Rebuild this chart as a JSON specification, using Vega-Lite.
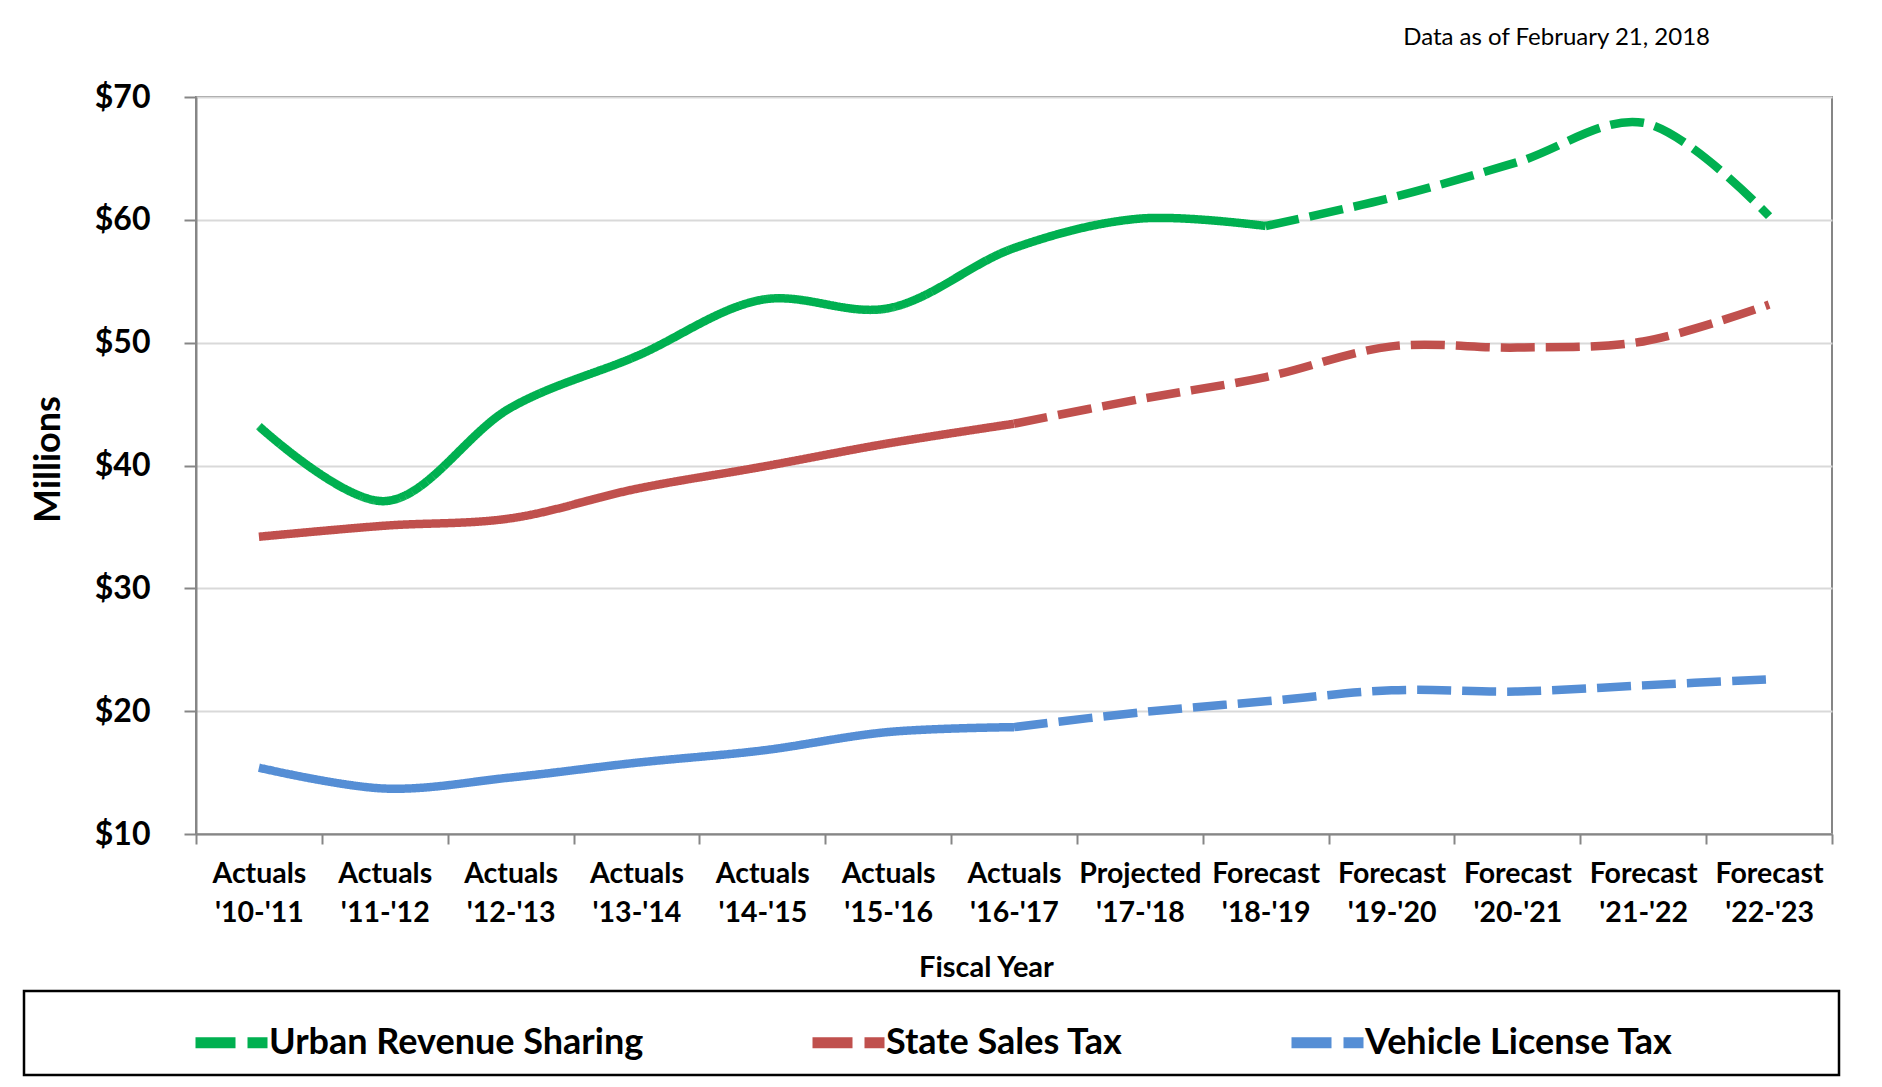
{
  "$schema": "https://vega.github.io/schema/vega-lite/v6.json",
  "width": 1636,
  "height": 737,
  "autosize": {"type": "none"},
  "padding": {"left": 196, "top": 97, "right": 50, "bottom": 253},
  "background": "white",
  "config": {"font": "Lato", "view": {"stroke": "#868686", "strokeWidth": 2}},
  "title": {"text": "Data as of February 21, 2018", "anchor": "end", "frame": "group", "font": "Lato", "fontSize": 24, "fontWeight": "normal", "color": "#000000", "offset": 31, "dx": -122},
  "data": {"values": [
    {"year": "Actuals '10-'11", "series": "Urban Revenue Sharing", "phase": "Actual", "value": 43.2},
    {"year": "Actuals '11-'12", "series": "Urban Revenue Sharing", "phase": "Actual", "value": 37.1},
    {"year": "Actuals '12-'13", "series": "Urban Revenue Sharing", "phase": "Actual", "value": 44.7},
    {"year": "Actuals '13-'14", "series": "Urban Revenue Sharing", "phase": "Actual", "value": 48.9},
    {"year": "Actuals '14-'15", "series": "Urban Revenue Sharing", "phase": "Actual", "value": 53.5},
    {"year": "Actuals '15-'16", "series": "Urban Revenue Sharing", "phase": "Actual", "value": 52.8},
    {"year": "Actuals '16-'17", "series": "Urban Revenue Sharing", "phase": "Actual", "value": 57.7},
    {"year": "Projected '17-'18", "series": "Urban Revenue Sharing", "phase": "Actual", "value": 60.1},
    {"year": "Forecast '18-'19", "series": "Urban Revenue Sharing", "phase": "Actual", "value": 59.5},
    {"year": "Forecast '18-'19", "series": "Urban Revenue Sharing", "phase": "Forecast", "value": 59.5},
    {"year": "Forecast '19-'20", "series": "Urban Revenue Sharing", "phase": "Forecast", "value": 61.8},
    {"year": "Forecast '20-'21", "series": "Urban Revenue Sharing", "phase": "Forecast", "value": 64.7},
    {"year": "Forecast '21-'22", "series": "Urban Revenue Sharing", "phase": "Forecast", "value": 67.9},
    {"year": "Forecast '22-'23", "series": "Urban Revenue Sharing", "phase": "Forecast", "value": 60.3},
    {"year": "Actuals '10-'11", "series": "State Sales Tax", "phase": "Actual", "value": 34.2},
    {"year": "Actuals '11-'12", "series": "State Sales Tax", "phase": "Actual", "value": 35.1},
    {"year": "Actuals '12-'13", "series": "State Sales Tax", "phase": "Actual", "value": 35.7},
    {"year": "Actuals '13-'14", "series": "State Sales Tax", "phase": "Actual", "value": 38.1},
    {"year": "Actuals '14-'15", "series": "State Sales Tax", "phase": "Actual", "value": 39.9},
    {"year": "Actuals '15-'16", "series": "State Sales Tax", "phase": "Actual", "value": 41.8},
    {"year": "Actuals '16-'17", "series": "State Sales Tax", "phase": "Actual", "value": 43.4},
    {"year": "Actuals '16-'17", "series": "State Sales Tax", "phase": "Forecast", "value": 43.4},
    {"year": "Projected '17-'18", "series": "State Sales Tax", "phase": "Forecast", "value": 45.4},
    {"year": "Forecast '18-'19", "series": "State Sales Tax", "phase": "Forecast", "value": 47.2},
    {"year": "Forecast '19-'20", "series": "State Sales Tax", "phase": "Forecast", "value": 49.7},
    {"year": "Forecast '20-'21", "series": "State Sales Tax", "phase": "Forecast", "value": 49.6},
    {"year": "Forecast '21-'22", "series": "State Sales Tax", "phase": "Forecast", "value": 50.1},
    {"year": "Forecast '22-'23", "series": "State Sales Tax", "phase": "Forecast", "value": 53.1},
    {"year": "Actuals '10-'11", "series": "Vehicle License Tax", "phase": "Actual", "value": 15.4},
    {"year": "Actuals '11-'12", "series": "Vehicle License Tax", "phase": "Actual", "value": 13.7},
    {"year": "Actuals '12-'13", "series": "Vehicle License Tax", "phase": "Actual", "value": 14.6},
    {"year": "Actuals '13-'14", "series": "Vehicle License Tax", "phase": "Actual", "value": 15.8},
    {"year": "Actuals '14-'15", "series": "Vehicle License Tax", "phase": "Actual", "value": 16.8},
    {"year": "Actuals '15-'16", "series": "Vehicle License Tax", "phase": "Actual", "value": 18.3},
    {"year": "Actuals '16-'17", "series": "Vehicle License Tax", "phase": "Actual", "value": 18.7},
    {"year": "Actuals '16-'17", "series": "Vehicle License Tax", "phase": "Forecast", "value": 18.7},
    {"year": "Projected '17-'18", "series": "Vehicle License Tax", "phase": "Forecast", "value": 19.9},
    {"year": "Forecast '18-'19", "series": "Vehicle License Tax", "phase": "Forecast", "value": 20.8},
    {"year": "Forecast '19-'20", "series": "Vehicle License Tax", "phase": "Forecast", "value": 21.7},
    {"year": "Forecast '20-'21", "series": "Vehicle License Tax", "phase": "Forecast", "value": 21.6},
    {"year": "Forecast '21-'22", "series": "Vehicle License Tax", "phase": "Forecast", "value": 22.1},
    {"year": "Forecast '22-'23", "series": "Vehicle License Tax", "phase": "Forecast", "value": 22.6}
  ]},
  "mark": {"type": "line", "interpolate": "catmull-rom", "strokeWidth": 8.5, "strokeCap": "butt"},
  "encoding": {
    "x": {
      "field": "year", "type": "nominal",
      "sort": ["Actuals '10-'11", "Actuals '11-'12", "Actuals '12-'13", "Actuals '13-'14", "Actuals '14-'15", "Actuals '15-'16", "Actuals '16-'17", "Projected '17-'18", "Forecast '18-'19", "Forecast '19-'20", "Forecast '20-'21", "Forecast '21-'22", "Forecast '22-'23"],
      "scale": {"type": "band", "paddingInner": 0, "paddingOuter": 0},
      "axis": {
        "labelExpr": "split(datum.label, ' ')",
        "labelAngle": 0, "labelOverlap": false, "labelBound": false,
        "labelFont": "Lato", "labelFontSize": 28.5, "labelFontWeight": "bold", "labelColor": "#000000",
        "labelLineHeight": 39, "labelPadding": 15,
        "tickBand": "extent", "tickSize": 10, "tickColor": "#868686", "tickWidth": 2,
        "domainColor": "#868686", "domainWidth": 2,
        "title": "Fiscal Year", "titleFont": "Lato", "titleFontSize": 29, "titleFontWeight": "bold", "titleColor": "#000000",
        "titleX": 790, "titleY": 133, "titleBaseline": "middle", "titleAlign": "center"
      }
    },
    "y": {
      "field": "value", "type": "quantitative",
      "scale": {"domain": [10, 70], "nice": false},
      "axis": {
        "values": [10, 20, 30, 40, 50, 60, 70],
        "labelExpr": "'$' + datum.value",
        "labelFont": "Lato", "labelFontSize": 32, "labelFontWeight": "bold", "labelColor": "#000000",
        "labelPadding": 34,
        "tickSize": 12, "tickColor": "#868686", "tickWidth": 2,
        "domainColor": "#868686", "domainWidth": 2,
        "gridColor": "#d9d9d9", "gridWidth": 2,
        "title": "Millions", "titleFont": "Lato", "titleFontSize": 36, "titleFontWeight": "bold", "titleColor": "#000000",
        "titleX": -148, "titleY": 362, "titleBaseline": "middle", "titleAngle": -90
      }
    },
    "color": {
      "field": "series", "type": "nominal",
      "scale": {"domain": ["Urban Revenue Sharing", "State Sales Tax", "Vehicle License Tax"], "range": ["#00B050", "#C0504D", "#558ED5"]},
      "legend": {
        "orient": "none", "legendX": -172, "legendY": 894,
        "direction": "horizontal", "columns": 3, "columnPadding": 146,
        "padding": 10, "strokeColor": "#000000", "fillColor": "#ffffff",
        "symbolType": "stroke", "symbolSize": 5184, "symbolStrokeWidth": 11, "symbolDash": [40, 12, 20, 400],
        "labelFont": "Lato", "labelFontSize": 36, "labelFontWeight": "bold", "labelColor": "#000000",
        "labelOffset": -4, "labelLimit": 0,
        "labelExpr": "datum.label == 'Vehicle License Tax' ? datum.label + '\u2800\u2800\u2800\u2800\u2800\u2800' : datum.label",
        "title": "\u2800\u2800\u2800\u2800\u2800\u2800",
        "titleOrient": "left", "titleFont": "Lato", "titleFontSize": 35.5, "titlePadding": 0, "titleLimit": 0,
        "encode": {"legend": {"update": {"strokeWidth": {"value": 2.5}}}}
      }
    },
    "strokeDash": {
      "field": "phase", "type": "nominal",
      "scale": {"domain": ["Actual", "Forecast"], "range": [[1, 0], [34, 11]]},
      "legend": null
    }
  }
}
